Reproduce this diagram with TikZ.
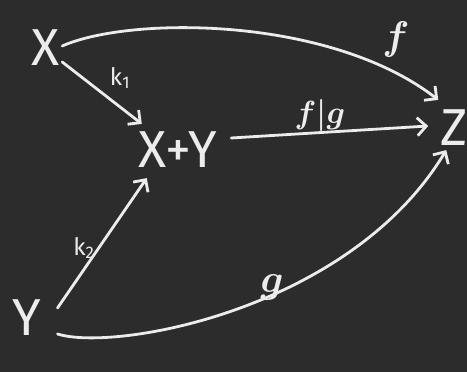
\RequirePackage{fix-cm}
\documentclass[tikz,border=0pt]{standalone}
\usepackage{fontspec}
\setsansfont{Fira Sans}
\usetikzlibrary{arrows.meta}
\definecolor{board}{RGB}{44,44,44}
\definecolor{chalk}{RGB}{236,236,236}
\begin{document}
\begin{tikzpicture}[x=1pt,y=1pt,
  obj/.style={text=chalk,inner sep=2pt,font=\sffamily\fontsize{52}{52}\selectfont},
  lbl/.style={text=chalk,inner sep=0pt,font=\boldmath\fontsize{32}{32}\selectfont},
  biglbl/.style={text=chalk,inner sep=0pt,font=\boldmath\fontsize{40}{40}\selectfont},
  klbl/.style={text=chalk,inner sep=0pt,font=\sffamily\fontsize{24}{24}\selectfont},
  arr/.style={draw=chalk,line width=2.8pt,line cap=round,-{Straight Barb[length=9pt,width=18pt,line width=2.8pt]}}]
\fill[board] (0,0) rectangle (467,372);
\useasboundingbox (0,0) rectangle (467,372);
% objects
\node[obj] (X) at (46,324) {X};
\node[obj] (XY) at (178,222) {X+Y};
\node[obj] (Z) at (454,244) {Z};
\node[obj] (Y) at (27,54) {Y};
% labels
\node[biglbl] (lf) at (396,332) {$f$};
\node[klbl] (lk1) at (120,294) {k\textsubscript{1}};
\node[lbl] (lfg) at (320,256) {$f|g$};
\node[klbl] (lk2) at (84,124) {k\textsubscript{2}};
\node[biglbl] (lg) at (272,84) {$g$};
% arrows
\draw[arr] ([shift={(0,2)}]X.east) .. controls (130,356) and (330,356) .. ([shift={(0,8)}]Z.north west);
\draw[arr] ([shift={(0,-14)}]X.east) -- ([shift={(5,6)}]XY.north west);
\draw[arr] ([shift={(12,12)}]XY.east) -- ([shift={(-10,2)}]Z.west);
\draw[arr] ([shift={(14,10)}]Y.east) -- ([shift={(10,-8)}]XY.south west);
\draw[arr] ([shift={(14,-16)}]Y.east) .. controls (115,20) and (350,62) .. ([shift={(8,-2)}]Z.south west);
\end{tikzpicture}
\end{document}
